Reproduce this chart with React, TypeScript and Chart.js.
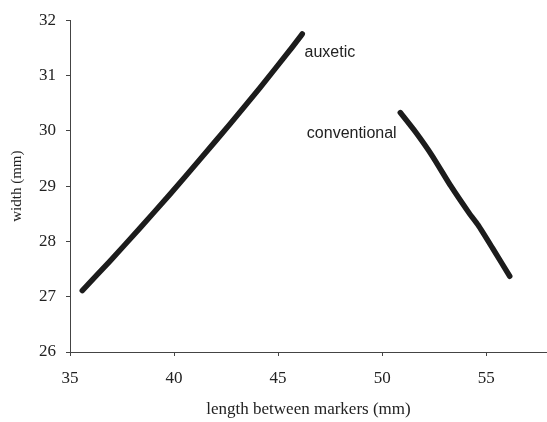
import React, { useEffect, useRef } from "react";
import { Chart, registerables } from "chart.js";

Chart.register(...registerables);

const AUXETIC_X = [35.59, 36.91, 38.36, 39.8, 41.24, 42.68, 44.13, 45.57, 46.16];
const AUXETIC_Y = [27.11, 27.64, 28.24, 28.85, 29.48, 30.12, 30.78, 31.46, 31.75];
const CONV_X = [50.87, 51.6, 52.4, 53.3, 54.2, 54.6, 55.3, 56.13];
const CONV_Y = [30.33, 29.98, 29.55, 29.0, 28.5, 28.3, 27.88, 27.37];
const X_TICKS = [35, 40, 45, 50, 55];
const Y_TICKS = [26, 27, 28, 29, 30, 31, 32];
const SERIES_LABELS = ["auxetic", "conventional"];
const LABEL_X = [46.27, 46.38];
const LABEL_Y = [31.33, 29.87];
const X_TITLE = "length between markers (mm)";
const Y_TITLE = "width (mm)";

const W = 547;
const H = 422;

const labelPlugin = {
  id: "curveLabels",
  afterDatasetsDraw(chart: any) {
    const { ctx, scales } = chart;
    ctx.save();
    ctx.font = '16px "Liberation Sans", Arial, sans-serif';
    ctx.fillStyle = "#222";
    ctx.textAlign = "left";
    ctx.textBaseline = "alphabetic";
    SERIES_LABELS.forEach((t, i) => {
      ctx.fillText(t, scales.x.getPixelForValue(LABEL_X[i]), scales.y.getPixelForValue(LABEL_Y[i]));
    });
    ctx.restore();
  },
};

export default function App() {
  const ref = useRef<HTMLCanvasElement | null>(null);
  useEffect(() => {
    if (!ref.current) return;
    const serif = '"Liberation Serif", "Times New Roman", serif';
    const lineStyle = {
      borderColor: "#1c1c1c",
      borderWidth: 5.5,
      borderCapStyle: "round" as const,
      borderJoinStyle: "round" as const,
      pointRadius: 0,
      tension: 0.2,
      fill: false,
    };
    const chart = new Chart(ref.current, {
      type: "line",
      data: {
        datasets: [
          {
            label: SERIES_LABELS[0],
            data: AUXETIC_X.map((x, i) => ({ x, y: AUXETIC_Y[i] })),
            ...lineStyle,
          },
          {
            label: SERIES_LABELS[1],
            data: CONV_X.map((x, i) => ({ x, y: CONV_Y[i] })),
            ...lineStyle,
          },
        ],
      },
      options: {
        responsive: false,
        animation: false,
        devicePixelRatio: 1,
        layout: { padding: { top: 14, right: 0, left: 0, bottom: 0 } },
        plugins: { legend: { display: false }, tooltip: { enabled: false } },
        scales: {
          x: {
            type: "linear",
            position: "bottom",
            min: 35,
            max: 57.92,
            afterBuildTicks: (s: any) => {
              s.ticks = X_TICKS.map((v) => ({ value: v }));
            },
            afterFit: (s: any) => {
              s.height = 70;
            },
            border: { display: true, color: "#444", width: 1 },
            grid: { drawOnChartArea: false, drawTicks: true, tickLength: 4, color: "#444" },
            ticks: { color: "#222", font: { family: serif, size: 17 }, padding: 12, maxRotation: 0 },
            title: {
              display: true,
              text: X_TITLE,
              color: "#222",
              font: { family: serif, size: 17 },
              padding: { top: 0, bottom: 2 },
            },
          },
          y: {
            type: "linear",
            min: 26,
            max: 32,
            afterBuildTicks: (s: any) => {
              s.ticks = Y_TICKS.map((v) => ({ value: v }));
            },
            afterFit: (s: any) => {
              s.width = 70;
            },
            border: { display: true, color: "#444", width: 1 },
            grid: { drawOnChartArea: false, drawTicks: true, tickLength: 4, color: "#444" },
            ticks: { color: "#222", font: { family: serif, size: 17 }, padding: 10 },
            title: {
              display: true,
              text: Y_TITLE,
              color: "#222",
              font: { family: serif, size: 15 },
              padding: { top: 8, bottom: 0 },
            },
          },
        },
      },
      plugins: [labelPlugin],
    });
    return () => chart.destroy();
  }, []);
  return (
    <div style={{ position: "fixed", left: 0, top: 0, width: W, height: H, background: "#fff" }}>
      <canvas ref={ref} width={W} height={H} style={{ width: W, height: H, display: "block" }} />
    </div>
  );
}
